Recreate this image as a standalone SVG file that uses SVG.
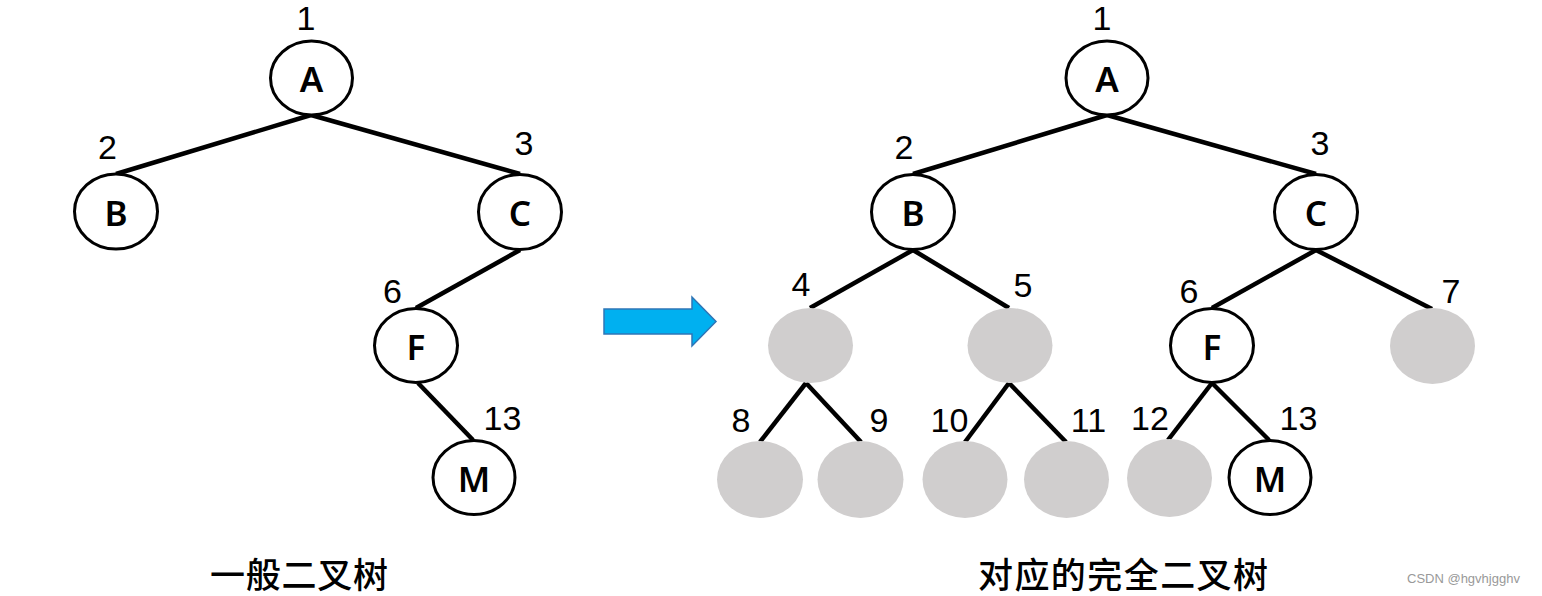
<svg xmlns="http://www.w3.org/2000/svg" width="1542" height="596" viewBox="0 0 1542 596">
<style>
.n{fill:#fff;stroke:#000;stroke-width:3}
.g{fill:#D0CECE;stroke:none}
.lt{font-family:"Noto Sans","Liberation Sans",Arial,sans-serif;font-weight:600;font-size:35px;text-anchor:middle;fill:#000}
.num{font-family:"Liberation Sans",Arial,sans-serif;font-size:34px;text-anchor:middle;fill:#000}
.cap{font-family:"Noto Sans CJK SC","Liberation Sans",sans-serif;font-weight:500;font-size:35px;fill:#000}
.wm{font-family:"Liberation Sans",Arial,sans-serif;font-size:13px;fill:#999}
#edges line{stroke:#000;stroke-width:4.5;stroke-linecap:butt}
</style>
<rect width="1542" height="596" fill="#fff"/>
<g id="edges">
<line x1="311" y1="115" x2="116" y2="174"/>
<line x1="311" y1="115" x2="520" y2="174"/>
<line x1="520" y1="250" x2="416" y2="308"/>
<line x1="418" y1="383" x2="473" y2="440"/>
<line x1="1107" y1="115" x2="913" y2="174"/>
<line x1="1107" y1="115" x2="1316" y2="174"/>
<line x1="913" y1="250" x2="810" y2="308"/>
<line x1="913" y1="250" x2="1009" y2="308"/>
<line x1="1316" y1="250" x2="1212" y2="308"/>
<line x1="1316" y1="250" x2="1432" y2="309"/>
<line x1="806" y1="383" x2="760" y2="442"/>
<line x1="806" y1="383" x2="861" y2="442"/>
<line x1="1009" y1="383" x2="965" y2="442"/>
<line x1="1009" y1="383" x2="1066" y2="442"/>
<line x1="1212" y1="383" x2="1168" y2="440"/>
<line x1="1212" y1="383" x2="1269" y2="440"/>
</g>
<g id="L-A"><ellipse class="n" cx="311.5" cy="78" rx="41" ry="37"/><text class="lt" x="311.5" y="92">A</text><text class="num" x="306" y="30">1</text></g>
<g id="L-B"><ellipse class="n" cx="116" cy="211.5" rx="41.5" ry="37.5"/><text class="lt" x="116" y="226">B</text><text class="num" x="107.5" y="159">2</text></g>
<g id="L-C"><ellipse class="n" cx="520" cy="212" rx="41.5" ry="37.5"/><text class="lt" x="520" y="226">C</text><text class="num" x="524" y="155">3</text></g>
<g id="L-F"><ellipse class="n" cx="416" cy="345.5" rx="41.5" ry="37"/><text class="lt" x="416" y="360">F</text><text class="num" x="392.5" y="303">6</text></g>
<g id="L-M"><ellipse class="n" cx="474" cy="477.5" rx="41" ry="37"/><text class="lt" x="474" y="492">M</text><text class="num" x="502.5" y="430">13</text></g>
<g id="arrow"><polygon points="604,309 692,309 692,297 716,321.5 692,346 692,334 604,334" fill="#00B0F0" stroke="#2E75B6" stroke-width="1.5"/></g>
<g id="R-A"><ellipse class="n" cx="1107" cy="78" rx="41" ry="37"/><text class="lt" x="1107" y="92">A</text><text class="num" x="1102" y="30">1</text></g>
<g id="R-B"><ellipse class="n" cx="913" cy="212" rx="41.5" ry="37.5"/><text class="lt" x="913" y="226">B</text><text class="num" x="904" y="159">2</text></g>
<g id="R-C"><ellipse class="n" cx="1316" cy="212" rx="41.5" ry="37.5"/><text class="lt" x="1316" y="226">C</text><text class="num" x="1320" y="155">3</text></g>
<g id="R-4"><ellipse class="g" cx="810.5" cy="345.5" rx="42.5" ry="37.5"/><text class="num" x="801" y="296">4</text></g>
<g id="R-5"><ellipse class="g" cx="1010" cy="345.5" rx="42.5" ry="37.5"/><text class="num" x="1023" y="297">5</text></g>
<g id="R-F"><ellipse class="n" cx="1212" cy="345.5" rx="41.5" ry="37"/><text class="lt" x="1212" y="360">F</text><text class="num" x="1189" y="303">6</text></g>
<g id="R-7"><ellipse class="g" cx="1432.5" cy="346" rx="42.5" ry="38"/><text class="num" x="1451" y="303">7</text></g>
<g id="R-8"><ellipse class="g" cx="760" cy="479.5" rx="43" ry="38.5"/><text class="num" x="741" y="432">8</text></g>
<g id="R-9"><ellipse class="g" cx="860.5" cy="479.5" rx="43" ry="38.5"/><text class="num" x="879" y="432">9</text></g>
<g id="R-10"><ellipse class="g" cx="965" cy="479.5" rx="42.5" ry="38.5"/><text class="num" x="949.5" y="432">10</text></g>
<g id="R-11"><ellipse class="g" cx="1066.5" cy="479.5" rx="42.5" ry="38.5"/><text class="num" x="1088.5" y="432">11</text></g>
<g id="R-12"><ellipse class="g" cx="1169.5" cy="478" rx="42.5" ry="39"/><text class="num" x="1150" y="430">12</text></g>
<g id="R-M"><ellipse class="n" cx="1270" cy="477.5" rx="41" ry="37"/><text class="lt" x="1270" y="492">M</text><text class="num" x="1298.5" y="430">13</text></g>
<text class="cap" x="210" y="588" textLength="178">一般二叉树</text>
<text class="cap" x="978" y="588" textLength="290">对应的完全二叉树</text>
<text class="wm" x="1407" y="583">CSDN @hgvhjgghv</text>
</svg>
